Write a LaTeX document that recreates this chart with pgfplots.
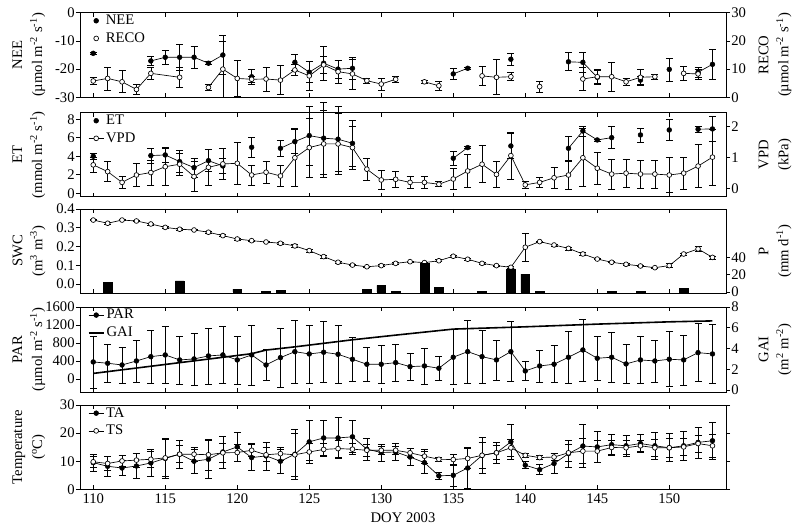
\documentclass[border=0pt]{standalone}
\usepackage{fontspec}
\setmainfont{Liberation Serif}
\usepackage{pgfplots}
\usepackage{pgfplotstable}
\pgfplotsset{compat=1.18}

\pgfplotstableread{
d v e
110 -14.4 0.5
111 nan 0
114 -17.1 1.6
115 -15.8 2.4
116 -15.8 4.7
117 -15.8 4.0
118 -17.9 0.5
119 -15.0 7.0
120 nan 0
121 -22.7 2.8
122 nan 0
124 -17.6 2.7
125 -21.1 3.7
126 -17.9 5.9
127 -20.0 3.2
128 -19.7 3.8
129 nan 0
135 -21.7 1.9
136 -19.7 0.4
137 nan 0
139 -16.5 2.2
140 nan 0
143 -17.4 3.2
144 -17.6 3.5
145 -22.9 2.5
146 nan 0
148 -23.9 1.4
149 nan 0
150 -20.1 4.1
151 nan 0
152 -21.1 1.8
153 -18.3 5.4
}\tabNEE

\pgfplotstableread{
d v e
110 5.8 1.2
111 6.7 4.1
112 5.5 3.9
113 2.8 1.8
114 8.5 2.0
116 7.1 3.5
117 nan 0
118 3.5 1.0
119 10.0 10.0
120 6.7 6.3
121 6.4 1.0
122 6.5 4.3
123 6.1 5.2
124 9.7 2.0
125 7.6 5.1
126 11.5 3.0
127 9.1 4.1
128 8.3 5.3
129 5.9 1.0
130 4.7 2.1
131 6.4 1.0
132 nan 0
133 5.5 0.5
134 4.1 1.7
135 nan 0
137 7.6 3.4
138 7.1 6.2
139 7.3 1.4
140 nan 0
141 3.8 2.0
142 nan 0
144 6.5 4.1
145 7.3 2.5
146 7.3 5.1
147 5.5 1.2
148 7.1 2.7
149 7.3 1.0
150 nan 0
151 8.5 2.4
152 8.3 1.8
}\tabRECO

\pgfplotstableread{
d v e
110 4.00 0.36
111 nan 0
114 4.07 0.8
115 4.14 0.8
116 3.42 1.2
117 2.77 1.0
118 3.52 1.2
119 2.95 0.8
120 nan 0
121 4.97 1.05
122 nan 0
123 4.86 0.9
124 5.58 1.3
125 6.23 3.2
126 5.95 3.9
127 5.84 3.5
128 5.40 2.5
129 nan 0
135 3.78 0.76
136 4.93 0.1
137 nan 0
139 5.11 1.35
140 nan 0
143 4.86 1.3
144 6.73 0.55
145 5.76 0.1
146 6.01 1.2
147 nan 0
148 6.30 0.76
149 nan 0
150 6.84 1.1
151 nan 0
152 6.92 0.3
153 6.95 1.35
}\tabET

\pgfplotstableread{
d v e
110 0.76 0.23
111 0.54 0.32
112 0.19 0.19
113 0.43 0.37
114 0.51 0.40
115 0.70 0.60
116 0.78 0.37
117 0.38 0.49
118 0.68 0.58
119 0.79 0.50
120 0.81 0.68
121 0.43 0.32
122 0.52 0.37
123 0.40 0.35
124 0.99 0.94
125 1.32 0.96
126 1.44 1.10
127 1.44 1.00
128 1.32 0.70
129 0.62 0.35
130 0.27 0.31
131 0.29 0.27
132 0.19 0.20
133 0.19 0.19
134 0.13 0.08
135 0.30 0.35
136 0.56 0.54
137 0.78 0.60
138 0.45 0.42
139 1.06 0.76
140 0.11 0.10
141 0.19 0.16
142 0.34 0.34
143 0.43 0.45
144 0.99 0.94
145 0.65 0.51
146 0.46 0.48
147 0.49 0.46
148 0.46 0.46
149 0.46 0.46
150 0.43 0.57
151 0.49 0.51
152 0.72 0.69
153 1.01 0.90
}\tabVPD

\pgfplotstableread{
d v e
110 0.341 0.004
111 0.324 0.004
112 0.341 0.003
113 0.336 0.003
114 0.320 0.005
115 0.302 0.005
116 0.292 0.005
117 0.288 0.003
118 0.276 0.004
119 0.258 0.006
120 0.240 0.005
121 0.231 0.004
122 0.224 0.003
123 0.217 0.004
124 0.203 0.007
125 0.178 0.008
126 0.146 0.008
127 0.116 0.006
128 0.101 0.004
129 0.092 0.003
130 0.098 0.005
131 0.110 0.006
132 0.119 0.004
133 0.114 0.004
134 0.124 0.005
135 0.148 0.004
136 0.132 0.004
137 0.110 0.005
138 0.098 0.004
139 0.089 0.004
140 0.196 0.074
141 0.226 0.004
142 0.208 0.005
143 0.190 0.008
144 0.160 0.008
145 0.133 0.004
146 0.116 0.003
147 0.105 0.003
148 0.096 0.003
149 0.087 0.003
150 0.098 0.010
151 0.160 0.005
152 0.187 0.012
153 0.142 0.008
}\tabSWC

\pgfplotstableread{
d p
111 10.9
116 12.8
120 3.2
122 1.0
123 2.0
129 3.2
130 7.8
131 0.5
133 33.5
134 5.0
137 1.0
139 26.8
140 20.7
141 1.0
146 0.5
148 1.0
151 4.3
}\tabP

\pgfplotstableread{
d v e
110 378 580
111 349 423
112 311 400
113 400 467
114 496 594
115 534 638
116 423 534
117 445 578
118 512 623
119 534 634
120 423 534
121 534 667
122 311 345
123 474 660
124 607 700
125 556 645
126 594 678
127 549 645
128 438 490
129 327 378
130 327 423
131 363 416
132 274 305
133 289 400
134 238 267
135 483 612
136 607 705
137 496 594
138 423 445
139 607 667
140 178 211
141 289 356
142 327 411
143 483 578
144 645 690
145 460 490
146 483 556
147 334 434
148 423 527
149 400 467
150 438 612
151 423 556
152 585 645
153 556 656
}\tabPAR

\pgfplotstableread{
d v
110 1.60
121 3.50
122 3.85
124 4.16
128 4.84
131 5.29
135 5.87
140 6.09
145 6.35
150 6.57
153 6.66
}\tabGAI

\pgfplotstableread{
d v e
110 9.5 3.0
111 8.2 3.6
112 7.6 2.7
113 8.3 4.5
114 9.4 4.8
115 11.0 7.1
116 12.5 5.0
117 10.0 4.2
118 10.7 6.7
119 13.3 5.7
120 15.1 5.2
121 11.3 4.6
122 11.9 5.0
123 10.0 4.2
124 12.5 8.9
125 16.9 7.6
126 18.3 6.4
127 18.3 7.3
128 18.7 5.7
129 14.3 3.9
130 13.1 3.0
131 13.3 2.9
132 11.5 3.0
133 9.5 3.9
134 4.8 1.3
135 5.0 4.0
136 7.6 7.4
137 12.1 6.5
138 13.0 3.9
139 16.9 6.1
140 8.6 1.2
141 7.0 1.8
142 9.2 3.5
143 12.7 4.9
144 15.4 7.6
145 15.1 5.4
146 15.9 3.7
147 15.5 3.8
148 16.3 3.3
149 15.5 4.8
150 14.8 5.0
151 15.5 5.2
152 16.7 5.5
153 17.3 6.7
}\tabTA

\pgfplotstableread{
d v e
110 9.8 2.0
111 9.2 2.5
112 10.1 2.0
113 10.4 2.5
114 10.7 3.0
115 11.2 6.5
116 12.5 3.0
117 12.5 2.4
118 12.3 5.5
119 13.0 3.5
120 13.1 3.0
121 13.9 2.3
122 12.3 2.5
123 12.7 2.3
124 12.3 7.5
125 13.3 3.0
126 14.2 2.0
127 14.5 3.0
128 14.3 2.0
129 13.9 2.0
130 13.9 1.5
131 13.9 1.5
132 13.0 1.5
133 11.8 2.5
134 10.7 0.8
135 10.6 2.0
136 11.0 3.5
137 12.1 4.5
138 13.0 2.5
139 14.8 3.0
140 12.1 0.8
141 11.3 0.8
142 11.5 1.2
143 13.0 3.0
144 13.6 4.5
145 13.6 4.0
146 14.9 2.5
147 14.8 2.5
148 15.5 2.0
149 14.8 3.0
150 14.8 3.5
151 15.1 3.0
152 16.3 3.0
153 15.5 4.0
}\tabTS

\pgfplotsset{
  base/.style={scale only axis, width=484.5pt, height=63pt,
    xmin=109.08, xmax=153.94, xtick={110,115,...,150},
    xtick align=inside, ytick align=outside, major tick length=3pt,
    axis line style={line width=0.5pt},
    every tick/.append style={line width=0.5pt, black},
    tick label style={font=\fontsize{11}{12}\selectfont},
    yticklabel style={inner sep=0.8pt},
    /pgf/number format/assume math mode=true,
    /pgf/number format/1000 sep={},
    unbounded coords=jump, clip=false},
  leftax/.style={base, ytick pos=left,
    every axis y label/.style={at={(axis description cs:-0.079,0.5)}, rotate=90, anchor=center,
      align=center, font=\fontsize{11}{15}\selectfont},
    legend style={at={(axis description cs:0.01,1)}, anchor=north west, draw=none, fill=none,
      font=\fontsize{11}{12}\selectfont, row sep=1.5pt, inner sep=0pt, nodes={inner sep=1.5pt}},
    legend cell align=left,
    legend image code/.code={\path[draw=none, fill=none] (0cm,-0.1cm) rectangle (0.45cm,0.1cm);
      \draw[mark repeat=2,mark phase=2] plot coordinates {(0.05cm,0cm)(0.25cm,0cm)(0.45cm,0cm)};}},
  rightax/.style={base, axis y line*=right, axis x line=none, ytick align=outside,
    every axis y label/.style={at={(axis description cs:1.076,0.5)}, rotate=90, anchor=center,
      align=center, font=\fontsize{11}{15}\selectfont}},
  filledm/.style={mark=*, mark size=1.8pt, mark options={fill=black, draw=black, line width=0.4pt}},
  openm/.style={mark=*, mark size=1.8pt, mark options={fill=white, draw=black, line width=0.5pt}},
  errb/.style={/pgfplots/error bars/y dir=both, /pgfplots/error bars/y explicit,
    /pgfplots/error bars/error bar style={line width=0.5pt, black},
    /pgfplots/error bars/error mark options={rotate=90, mark size=2.6pt, line width=0.5pt, black}},
  ln/.style={black, line width=0.5pt},
}

\begin{document}
\begin{tikzpicture}
\useasboundingbox (0,0) rectangle (600pt,397.5pt);

% Panel 1: NEE / RECO
\begin{axis}[leftax, at={(60pt,324.5pt)}, anchor=south west, height=63.45pt,
  ymin=-30, ymax=0, ytick={-30,-20,-10,0}, xticklabels={},
  ylabel={NEE\\(µmol m\textsuperscript{-2} s\textsuperscript{-1})}]
\addplot[ln, filledm, errb, forget plot] table[x=d, y=v, y error=e] {\tabNEE};
\addlegendimage{only marks, filledm}
\addlegendentry{NEE}
\addlegendimage{only marks, openm}
\addlegendentry{RECO}
\end{axis}
\begin{axis}[rightax, at={(60pt,324.5pt)}, anchor=south west, height=63.45pt,
  ymin=0, ymax=30, ytick={0,10,20,30},
  ylabel={RECO\\(µmol m\textsuperscript{-2} s\textsuperscript{-1})}]
\addplot[ln, openm, errb] table[x=d, y=v, y error=e] {\tabRECO};
\end{axis}

% Panel 2: ET / VPD
\begin{axis}[leftax, at={(60pt,250pt)}, anchor=south west,
  ymin=-0.37, ymax=8.71, ytick={0,2,4,6,8}, xticklabels={},
  ylabel={ET\\(mmol m\textsuperscript{-2} s\textsuperscript{-1})}]
\addplot[ln, filledm, errb, forget plot] table[x=d, y=v, y error=e] {\tabET};
\addlegendimage{only marks, filledm}
\addlegendentry{ET}
\addlegendimage{ln, openm}
\addlegendentry{VPD}
\end{axis}
\begin{axis}[rightax, at={(60pt,250pt)}, anchor=south west,
  ymin=-0.273, ymax=2.455, ytick={0,1,2},
  ylabel={VPD\\(kPa)}]
\addplot[ln, openm, errb] table[x=d, y=v, y error=e] {\tabVPD};
\end{axis}

% Panel 3: SWC / P
\begin{axis}[leftax, at={(60pt,177.75pt)}, anchor=south west,
  ymin=-0.048, ymax=0.4, ytick={0,0.1,0.2,0.3,0.4}, xticklabels={},
  yticklabel style={/pgf/number format/.cd, fixed, fixed zerofill, precision=1},
  ylabel={SWC\\(m\textsuperscript{3} m\textsuperscript{-3})}]
\addplot[ln, openm, errb] table[x=d, y=v, y error=e] {\tabSWC};
\end{axis}
\begin{axis}[rightax, at={(60pt,177.75pt)}, anchor=south west,
  ymin=-1.2, ymax=96.8, ytick={0,20,40},
  ylabel={P\\(mm d\textsuperscript{-1})}]
\addplot[ybar, bar width=6.5pt, fill=black, draw=black] table[x=d, y=p] {\tabP};
\end{axis}

% Panel 4: PAR / GAI
\begin{axis}[leftax, at={(60pt,103.5pt)}, anchor=south west, height=63.75pt,
  ymin=-290, ymax=1600, ytick={0,400,800,1200,1600}, xticklabels={},
  ylabel={PAR\\(µmol m\textsuperscript{-2} s\textsuperscript{-1})}]
\addplot[ln, filledm, errb, forget plot] table[x=d, y=v, y error=e] {\tabPAR};
\addlegendimage{ln, filledm}
\addlegendentry{PAR}
\addlegendimage{black, line width=1.2pt}
\addlegendentry{GAI}
\end{axis}
\begin{axis}[rightax, at={(60pt,103.5pt)}, anchor=south west, height=63.75pt,
  ymin=-0.19, ymax=8, ytick={0,2,4,6,8},
  ylabel={GAI\\(m\textsuperscript{2} m\textsuperscript{-2})}]
\addplot[black, line width=1.2pt, no markers] table[x=d, y=v] {\tabGAI};
\end{axis}

% Panel 5: Temperature
\begin{axis}[leftax, at={(60pt,30.5pt)}, anchor=south west, height=63.2pt,
  ymin=0, ymax=30, ytick={0,10,20,30},
  every axis x label/.style={at={(axis description cs:0.5,0)}, yshift=-21.5pt, anchor=center,
    font=\fontsize{11}{12}\selectfont},
  xlabel={DOY 2003},
  ylabel={Temperature\\(\textsuperscript{o}C)}]
\addplot[ln, filledm, errb, forget plot] table[x=d, y=v, y error=e] {\tabTA};
\addplot[ln, openm, errb, forget plot] table[x=d, y=v, y error=e] {\tabTS};
\addlegendimage{ln, filledm}
\addlegendentry{TA}
\addlegendimage{ln, openm}
\addlegendentry{TS}
\end{axis}
\begin{axis}[rightax, at={(60pt,30.5pt)}, anchor=south west, height=63.2pt,
  ymin=0, ymax=30, ytick={0,10,20,30}, yticklabels={}]
\end{axis}
\end{tikzpicture}
\end{document}
